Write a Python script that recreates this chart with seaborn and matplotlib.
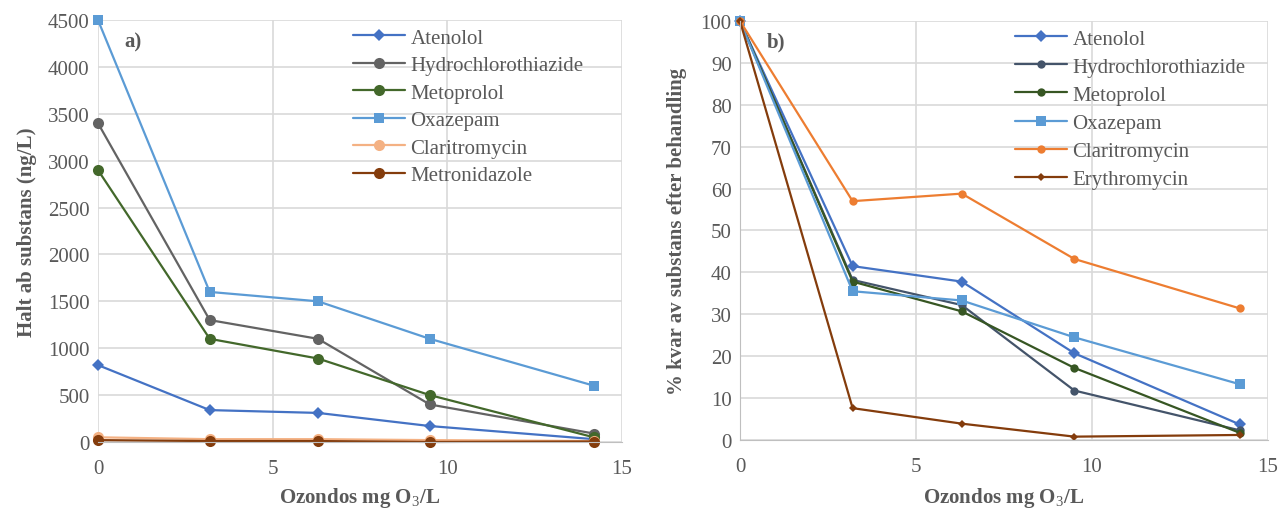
import matplotlib
matplotlib.use("Agg")
import matplotlib.pyplot as plt
import seaborn as sns

sns.set_style("white")
plt.rcParams['font.family'] = ['Liberation Serif', 'DejaVu Serif']
plt.rcParams['mathtext.fontset'] = 'custom'
plt.rcParams['mathtext.rm'] = 'Liberation Serif'
plt.rcParams['mathtext.bf'] = 'Liberation Serif:bold'

TXT = '#595959'
GRID = '#D9D9D9'

# ozone dose (mg O3/L)
dose = [0, 3.2, 6.3, 9.5, 14.2]

# a) concentration left (ng/L)
names_a = ['Atenolol', 'Hydrochlorothiazide', 'Metoprolol', 'Oxazepam',
           'Claritromycin', 'Metronidazole']
atenolol_a = [820, 340, 310, 170, 30]
hydro_a = [3400, 1300, 1100, 400, 90]
metoprolol_a = [2900, 1100, 890, 500, 50]
oxazepam_a = [4500, 1600, 1500, 1100, 600]
clari_a = [50, 30, 30, 20, 10]
metronid_a = [20, 10, 10, 0, 5]

# b) percent remaining after treatment
names_b = ['Atenolol', 'Hydrochlorothiazide', 'Metoprolol', 'Oxazepam',
           'Claritromycin', 'Erythromycin']
atenolol_b = [100, 41.5, 37.8, 20.7, 3.7]
hydro_b = [100, 38.2, 32.2, 11.8, 2.3]
metoprolol_b = [100, 37.8, 30.7, 17.2, 1.7]
oxazepam_b = [100, 35.5, 33.3, 24.5, 13.3]
clari_b = [100, 57.0, 58.8, 43.2, 31.4]
erythro_b = [100, 7.6, 3.9, 0.8, 1.2]

style_a = [('#4472C4', 'D', 6), ('#636363', 'o', 8), ('#43682B', 'o', 8),
           ('#5B9BD5', 's', 7), ('#F4B183', 'o', 8), ('#843C0C', 'o', 8)]
style_b = [('#4472C4', 'D', 6), ('#44546A', 'o', 6), ('#375623', 'o', 6),
           ('#5B9BD5', 's', 7), ('#ED7D31', 'o', 6), ('#843C0C', 'D', 4)]

fig = plt.figure(figsize=(12.82, 5.10), dpi=100)
ax1 = fig.add_axes([0.0764, 0.1314, 0.4087, 0.8275])
ax2 = fig.add_axes([0.5772, 0.1353, 0.4119, 0.8216])


def draw(ax, series, names, styles):
    for vals, name, (c, m, ms) in zip(series, names, styles):
        sns.lineplot(x=dose, y=vals, ax=ax, color=c, marker=m, markersize=ms,
                     markeredgewidth=0, linewidth=1.6, label=name,
                     clip_on=False)


draw(ax1, [atenolol_a, hydro_a, metoprolol_a, oxazepam_a, clari_a, metronid_a],
     names_a, style_a)
draw(ax2, [atenolol_b, hydro_b, metoprolol_b, oxazepam_b, clari_b, erythro_b],
     names_b, style_b)

ax1.set_ylim(0, 4500)
ax1.set_yticks(range(0, 4501, 500))
ax2.set_ylim(0, 100)
ax2.set_yticks(range(0, 101, 10))

for ax, anchor, sp, lp in ((ax1, (0.487, 0.981), 0.38, 5),
                           (ax2, (0.521, 0.981), 0.41, 7)):
    ax.set_xlim(0, 15)
    ax.set_xticks([0, 5, 10, 15])
    ax.grid(True, color=GRID, linewidth=1.2)
    ax.set_axisbelow(True)
    for s in ('top', 'right', 'left'):
        ax.spines[s].set_visible(False)
    ax.spines['bottom'].set_color('#BFBFBF')
    ax.tick_params(axis='both', labelsize=15, colors=TXT, length=0, pad=6)
    ax.tick_params(axis='x', pad=12)
    ax.set_xlabel('Ozondos mg O$_3$/L', fontsize=15, fontweight='bold',
                  color=TXT, labelpad=lp)
    ax.legend(loc='upper left', bbox_to_anchor=anchor, frameon=False,
              fontsize=15, labelcolor=TXT, handlelength=2.5,
              handletextpad=0.25, labelspacing=sp, borderpad=0,
              borderaxespad=0)

ax2.spines['left'].set_visible(True)
ax2.spines['left'].set_color('#BFBFBF')

ax1.set_ylabel('Halt ab substans (ng/L)', fontsize=15, fontweight='bold',
               color=TXT, labelpad=8)
ax2.set_ylabel('% kvar av substans efter behandling', fontsize=15,
               fontweight='bold', color=TXT, labelpad=10)

ax1.text(0.05, 0.95, 'a)', transform=ax1.transAxes, fontsize=15,
         fontweight='bold', color=TXT, va='center')
ax2.text(0.05, 0.95, 'b)', transform=ax2.transAxes, fontsize=15,
         fontweight='bold', color=TXT, va='center')

fig.savefig('out.png', dpi=100)
